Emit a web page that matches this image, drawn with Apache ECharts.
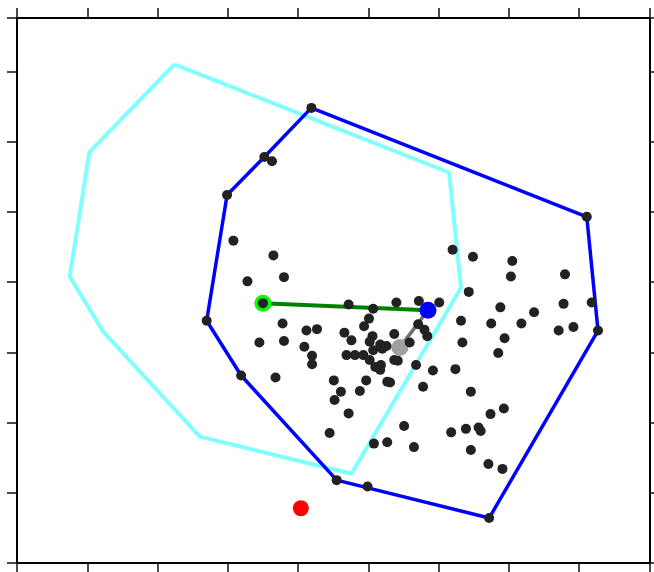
<!DOCTYPE html>
<html>
<head>
<meta charset="utf-8">
<script src="https://cdn.jsdelivr.net/npm/echarts@6/dist/echarts.min.js"></script>
<style>
  html, body { margin: 0; padding: 0; background: #fff; }
  #chart { width: 654px; height: 572px; }
</style>
</head>
<body>
<div id="chart"></div>
<script>
// scattered points (x, y)
var points = [
  [4.19, 6.48], [3.52, 5.78], [3.63, 5.72], [2.99, 5.24], [3.08, 4.59],
  [8.11, 4.93], [3.65, 4.38], [3.28, 4.01], [3.80, 4.07], [3.50, 3.70],
  [4.72, 3.68], [5.07, 3.62], [5.40, 3.71], [2.70, 3.45], [3.78, 3.41],
  [5.01, 3.48], [4.94, 3.37], [4.12, 3.31], [4.27, 3.33], [4.66, 3.28],
  [5.06, 3.23], [5.37, 3.26], [3.45, 3.14], [3.80, 3.16], [4.76, 3.17],
  [5.02, 3.15], [5.17, 3.11], [5.26, 3.09], [5.20, 3.05], [4.09, 3.08],
  [5.07, 3.03], [4.69, 2.96], [4.81, 2.96], [4.93, 2.96], [5.02, 2.89],
  [4.20, 2.95], [4.20, 2.83], [5.10, 2.79], [5.18, 2.82], [5.17, 2.75],
  [5.37, 2.89], [5.42, 2.88], [3.19, 2.67], [3.68, 2.64], [4.51, 2.60],
  [4.97, 2.60], [5.27, 2.58], [5.31, 2.57], [5.59, 3.14], [5.80, 3.32],
  [5.84, 3.23], [5.71, 3.40], [6.34, 3.14], [6.94, 3.20], [6.85, 2.99],
  [5.68, 2.82], [5.92, 2.74], [6.24, 2.76], [5.78, 2.51], [4.61, 2.44],
  [4.88, 2.45], [4.52, 2.32], [6.46, 2.44], [4.72, 2.13], [6.74, 2.12],
  [6.93, 2.20], [5.51, 1.95], [4.45, 1.85], [5.08, 1.70], [5.27, 1.72],
  [5.65, 1.65], [6.18, 1.86], [6.39, 1.91], [6.57, 1.93], [6.60, 1.88],
  [6.46, 1.61], [6.71, 1.41], [6.91, 1.34], [4.55, 1.18], [4.99, 1.09],
  [6.72, 0.64], [6.20, 4.46], [6.49, 4.36], [7.05, 4.30], [7.03, 4.08],
  [7.80, 4.11], [6.43, 3.86], [5.72, 3.73], [6.01, 3.71], [6.88, 3.64],
  [7.78, 3.69], [8.18, 3.71], [7.36, 3.57], [6.32, 3.45], [6.75, 3.41],
  [7.18, 3.41], [7.71, 3.31], [7.92, 3.36], [8.27, 3.31]
];

// convex hull of the points (blue)
var hull = [
  [4.19, 6.48], [8.11, 4.93], [8.27, 3.31], [6.72, 0.64], [4.55, 1.18],
  [3.19, 2.67], [2.70, 3.45], [2.99, 5.24], [3.52, 5.78], [4.19, 6.48]
];

// second polygon (cyan)
var region = [
  [2.24, 7.10], [6.15, 5.56], [6.32, 3.92], [4.76, 1.27], [2.60, 1.80],
  [1.23, 3.29], [0.75, 4.08], [1.03, 5.85], [2.24, 7.10]
];

var greenPt = [3.50, 3.70];
var bluePt = [5.85, 3.60];
var grayPt = [5.45, 3.07];
var redPt = [4.04, 0.78];

var chart = echarts.init(document.getElementById("chart"));

var frameAxis = {
  type: "value",
  interval: 1,
  axisLine: { show: true, onZero: false, lineStyle: { color: "#000", width: 2 } },
  axisTick: { show: true, inside: false, length: 10, lineStyle: { color: "#111", width: 1.5 } },
  axisLabel: { show: false },
  splitLine: { show: false },
};

var option = {
  animation: false,
  grid: { left: 17, top: 18, right: 4, bottom: 9 },
  xAxis: [
    Object.assign({}, frameAxis, { position: "bottom", min: 0, max: 9.01 }),
    Object.assign({}, frameAxis, { position: "top", min: 0, max: 9.01 }),
  ],
  yAxis: [
    Object.assign({}, frameAxis, { position: "left", min: 0, max: 7.76 }),
    Object.assign({}, frameAxis, { position: "right", min: 0, max: 7.76 }),
  ],
  series: [
    {
      type: "line",
      data: region,
      symbol: "none",
      z: 1,
      lineStyle: { color: "#80ffff", width: 4 },
    },
    {
      type: "line",
      data: hull,
      symbol: "none",
      z: 2,
      lineStyle: { color: "#0000ff", width: 3.5 },
    },
    {
      type: "line",
      data: [greenPt, bluePt],
      symbol: "none",
      z: 3,
      lineStyle: { color: "#008000", width: 4 },
    },
    {
      type: "line",
      data: [grayPt, bluePt],
      symbol: "none",
      z: 3,
      lineStyle: { color: "#707070", width: 3.5 },
    },
    {
      type: "scatter",
      data: [greenPt],
      symbolSize: 17,
      z: 4,
      itemStyle: { color: "#00ff00", opacity: 1 },
    },
    {
      type: "scatter",
      data: [grayPt],
      symbolSize: 17,
      z: 4,
      itemStyle: { color: "#a0a0a0", opacity: 1 },
    },
    {
      type: "scatter",
      data: points,
      symbolSize: 10,
      z: 5,
      itemStyle: { color: "#222222", opacity: 1 },
    },
    {
      type: "scatter",
      data: [bluePt],
      symbolSize: 17,
      z: 6,
      itemStyle: { color: "#0000ff", opacity: 1 },
    },
    {
      type: "scatter",
      data: [redPt],
      symbolSize: 16,
      z: 6,
      itemStyle: { color: "#ff0000", opacity: 1 },
    },
  ],
};

chart.setOption(option);
</script>
</body>
</html>
